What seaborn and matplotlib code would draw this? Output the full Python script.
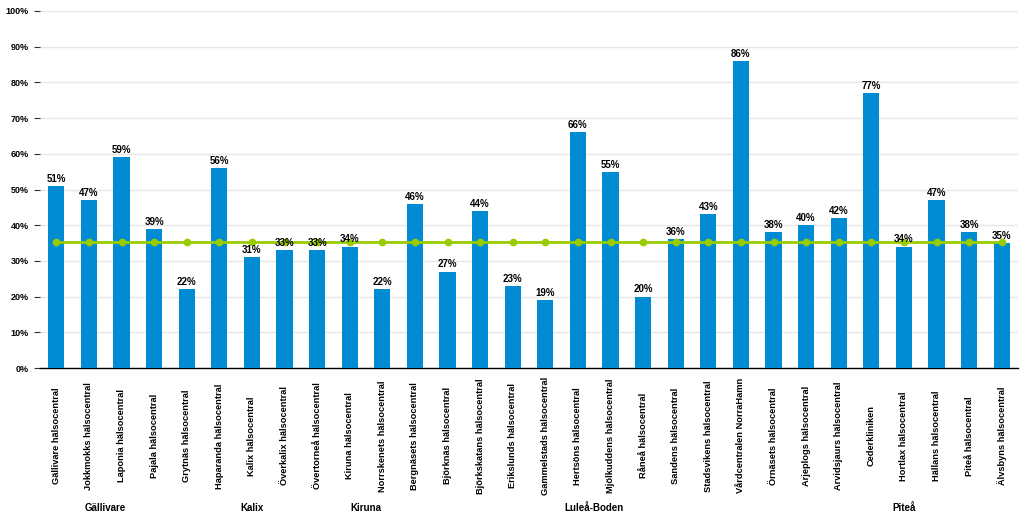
import matplotlib
matplotlib.use("Agg")
import matplotlib.pyplot as plt
import seaborn as sns
import pandas as pd
import numpy as np

units = ["Gällivare hälsocentral", "Jokkmokks hälsocentral", "Laponia hälsocentral",
         "Pajala hälsocentral", "Grytnäs hälsocentral", "Haparanda hälsocentral",
         "Kalix hälsocentral", "Överkalix hälsocentral", "Övertorneå hälsocentral",
         "Kiruna hälsocentral", "Norrskenets hälsocentral", "Bergnäsets hälsocentral",
         "Björknäs hälsocentral", "Björkskatans hälsocentral", "Erikslunds hälsocentral",
         "Gammelstads hälsocentral", "Hertsöns hälsocentral", "Mjölkuddens hälsocentral",
         "Råneå hälsocentral", "Sandens hälsocentral", "Stadsvikens hälsocentral",
         "Vårdcentralen NorraHamn", "Örnäsets hälsocentral", "Arjeplogs hälsocentral",
         "Arvidsjaurs hälsocentral", "Cederkliniken", "Hortlax hälsocentral",
         "Hällans hälsocentral", "Piteå hälsocentral", "Älvsbyns hälsocentral"]
values = [51, 47, 59, 39, 22, 56, 31, 33, 33, 34, 22, 46, 27, 44, 23, 19, 66, 55,
          20, 36, 43, 86, 38, 40, 42, 77, 34, 47, 38, 35]
average = [35.2] * len(units)
groups = ["Gällivare", "Kalix", "Kiruna", "Luleå-Boden", "Piteå"]
group_sizes = [4, 5, 2, 12, 7]

plt.rcParams['font.family'] = ['Liberation Sans', 'DejaVu Sans']
fig = plt.figure(figsize=(10.24, 5.21), dpi=100)
ax = fig.add_axes([40/1024, 1-368/521, (1018-40)/1024, (368-11)/521])

df = pd.DataFrame({"unit": units, "value": values, "avg": average})
sns.barplot(data=df, x="unit", y="value", color="#008BD2", width=0.5,
            saturation=1, ax=ax, zorder=3)
ax.plot(np.arange(len(units)), df["avg"], color="#99CC00", lw=2, marker="o",
        markersize=4.5, markerfacecolor="#99CC00", markeredgecolor="#99CC00", zorder=4)

for i, v in enumerate(values):
    ax.text(i, v + 0.6, f"{v}%", ha="center", va="bottom", fontsize=7,
            fontweight="bold", color="black", zorder=5)

ax.set_xlim(-0.5, len(units) - 0.5)
ax.set_ylim(0, 100)
ax.set_yticks(range(0, 101, 10))
ax.set_yticklabels([f"{t}%" for t in range(0, 101, 10)], fontsize=6.5, fontweight="bold")
ax.set_xticks(range(len(units)))
ax.set_xticklabels([""] * len(units))
ax.tick_params(axis="x", length=0)
ax.tick_params(axis="y", length=4, width=0.8, color="#333333", pad=4)
ax.set_xlabel("")
ax.set_ylabel("")
ax.grid(axis="y", color="#E6E6E6", lw=1, zorder=0)
ax.set_axisbelow(True)
for s in ["top", "right", "left"]:
    ax.spines[s].set_visible(False)
ax.spines["bottom"].set_color("black")
ax.spines["bottom"].set_linewidth(1)

for i, u in enumerate(units):
    ax.text(i, -19.0, u, rotation=90, ha="center", va="center", fontsize=6.7,
            fontweight="bold", clip_on=False)

start = 0
for g, n in zip(groups, group_sizes):
    center = start + (n - 1) / 2
    ax.text(center, -39.3, g, ha="center", va="center", fontsize=7, fontweight="bold",
            clip_on=False)
    start += n

fig.savefig("out.png", dpi=100, facecolor="white")
